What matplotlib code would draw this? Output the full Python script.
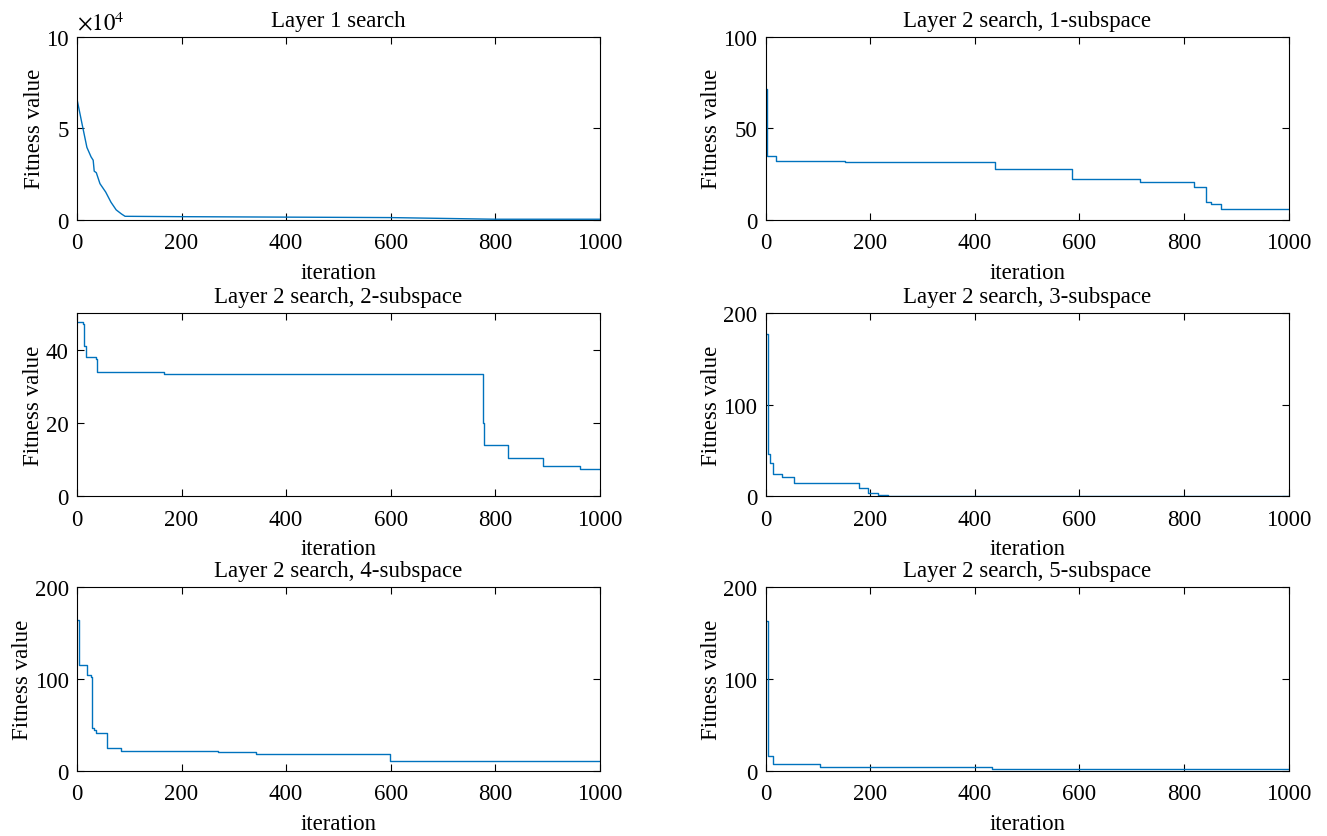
import matplotlib
matplotlib.use('Agg')
from matplotlib import pyplot as plt
from matplotlib.ticker import FuncFormatter

plt.rcParams['font.family'] = ['Liberation Serif', 'DejaVu Serif']
plt.rcParams['mathtext.fontset'] = 'stix'
plt.rcParams['font.size'] = 16.5

# breakpoints (iteration, best fitness)
layer1_it = [0, 10, 19, 27, 31, 33, 37, 44, 55, 65, 75, 85, 92, 200, 600, 800, 1000]
layer1_val = [66000, 52000, 39600, 34400, 32600, 26600, 25800, 19800, 15200, 9700, 5500, 3300, 2000,
              1800, 1300, 400, 400]

sub1_it = [0, 3, 19, 152, 438, 586, 715, 819, 842, 852, 871, 1000]
sub1_val = [71.4, 35.0, 32.2, 31.7, 27.8, 22.5, 20.7, 18.1, 9.7, 8.8, 5.9, 5.9]

sub2_it = [0, 12, 14, 17, 37, 38, 166, 774, 776, 778, 825, 892, 963, 1000]
sub2_val = [47.4, 47.0, 41.0, 38.0, 37.5, 33.9, 33.4, 33.4, 20.0, 14.0, 10.5, 8.2, 7.5, 7.5]

sub3_it = [0, 4, 9, 14, 32, 55, 179, 196, 214, 233, 1000]
sub3_val = [176.8, 46.3, 36.0, 24.3, 21.3, 14.0, 9.2, 3.7, 1.1, 0.3, 0.2]

sub4_it = [0, 3, 19, 27, 29, 33, 37, 58, 85, 269, 342, 598, 1000]
sub4_val = [164.0, 115.0, 104.4, 102.0, 46.3, 44.5, 40.8, 24.3, 21.0, 19.9, 18.0, 10.3, 10.3]

sub5_it = [0, 4, 14, 103, 432, 470, 1000]
sub5_val = [162.9, 16.2, 7.7, 4.0, 2.2, 1.5, 1.5]

titles = ['Layer 1 search', 'Layer 2 search, 1-subspace', 'Layer 2 search, 2-subspace',
          'Layer 2 search, 3-subspace', 'Layer 2 search, 4-subspace', 'Layer 2 search, 5-subspace']
ylims = [100000, 100, 50, 200, 200, 200]
yticks = [[0, 50000, 100000], [0, 50, 100], [0, 20, 40], [0, 100, 200], [0, 100, 200], [0, 100, 200]]
series = [(layer1_it, layer1_val), (sub1_it, sub1_val), (sub2_it, sub2_val),
          (sub3_it, sub3_val), (sub4_it, sub4_val), (sub5_it, sub5_val)]

fig = plt.figure(figsize=(13.27, 8.37), dpi=100)
lefts = [0.058, 0.577]
bottoms = [0.736, 0.406, 0.078]

for i in range(6):
    ax = fig.add_axes([lefts[i % 2], bottoms[i // 2], 0.394, 0.219])
    it, val = series[i]
    if i == 0:
        ax.plot(it, val, color='#0072BD', lw=1)
    else:
        ax.step(it, val, where='post', color='#0072BD', lw=1)
    ax.set_xlim(0, 1000)
    ax.set_ylim(0, ylims[i])
    ax.set_xticks([0, 200, 400, 600, 800, 1000])
    ax.set_yticks(yticks[i])
    ax.tick_params(direction='in', top=True, right=True, length=5, width=0.8)
    ax.tick_params(axis='x', pad=9)
    ax.tick_params(axis='y', pad=6)
    ax.set_title(titles[i], fontsize=16.5, pad=8)
    ax.set_xlabel('iteration', labelpad=6)
    ax.set_ylabel('Fitness value', labelpad=1)
    if i == 0:
        ax.yaxis.set_major_formatter(FuncFormatter(lambda v, p: '%d' % (v / 10000)))
        ax.text(0.0, 1.01, r'$\times10^{4}$', transform=ax.transAxes, fontsize=16.5, va='bottom')

plt.savefig('out.png', dpi=100)
